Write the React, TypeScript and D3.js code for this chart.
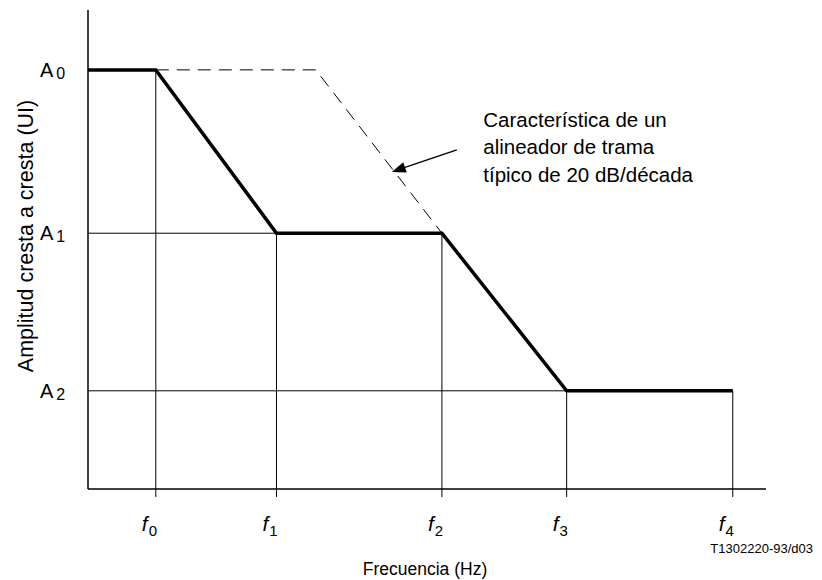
import React from "react"
import * as d3 from "d3"

// frequency ticks (abstract positions along the axis)
const fLabels = ["0", "1", "2", "3", "4"]
const fPos = [1.0, 2.78, 5.22, 7.06, 9.51]
const fTop = [8.75, 5.34, 5.34, 2.05, 2.05]

// amplitude levels
const aLabels = ["0", "1", "2"]
const aLevels = [8.75, 5.34, 2.05]
const aGridEnd = [1.0, 5.22, 7.06]

// thick tolerance curve
const responseX = [0, 1.0, 2.78, 5.22, 7.06, 9.51]
const responseY = [8.75, 8.75, 5.34, 5.34, 2.05, 2.05]

// dashed 20 dB/decade frame aligner
const alignerX = [1.0, 3.36, 5.22]
const alignerY = [8.75, 8.75, 5.34]

const noteLines = ["Característica de un", "alineador de trama", "típico de 20 dB/década"]
const noteAt = { x: 5.83, y: 7.56 }
const arrowFrom = { x: 5.44, y: 7.08 }
const arrowTo = { x: 4.48, y: 6.62 }

const font = "'Liberation Sans', Arial, sans-serif"

const App = () => {
  const width = 822
  const height = 580
  const margin = { top: 10, right: 56, bottom: 91, left: 88 }

  const x = d3.scaleLinear().domain([0, 10]).range([margin.left, width - margin.right])
  const y = d3.scaleLinear().domain([0, 10]).range([height - margin.bottom, margin.top])
  const y0 = y(0)

  const responsePath = d3.line<number>().x((d) => x(d)).y((_, i) => y(responseY[i]))(responseX)
  const alignerPath = d3.line<number>().x((d) => x(d)).y((_, i) => y(alignerY[i]))(alignerX)

  const ax = x(arrowFrom.x), ay = y(arrowFrom.y)
  const bx = x(arrowTo.x), by = y(arrowTo.y)
  const ang = Math.atan2(by - ay, bx - ax)
  const hl = 14, hw = 5.5
  const baseX = bx - hl * Math.cos(ang), baseY = by - hl * Math.sin(ang)
  const head = [
    [bx, by],
    [baseX + hw * Math.sin(ang), baseY - hw * Math.cos(ang)],
    [baseX - hw * Math.sin(ang), baseY + hw * Math.cos(ang)],
  ]

  return (
    <svg width={width} height={height} style={{ position: "absolute", left: 0, top: 0, background: "white" }} fontFamily={font}>
      {/* vertical drop lines and ticks */}
      {fPos.map((f, i) => (
        <line key={"v" + i} x1={x(f)} x2={x(f)} y1={y(fTop[i])} y2={y0 + 8} stroke="#000" strokeWidth={1} />
      ))}
      {/* horizontal level lines */}
      {aLevels.map((a, i) => (
        <line key={"h" + i} x1={x(0)} x2={x(aGridEnd[i])} y1={y(a)} y2={y(a)} stroke="#000" strokeWidth={1} />
      ))}

      {/* axes */}
      <line x1={x(0)} x2={x(0)} y1={y(10)} y2={y0} stroke="#000" strokeWidth={1.5} />
      <line x1={x(0)} x2={x(10)} y1={y0} y2={y0} stroke="#000" strokeWidth={1.5} />

      {/* dashed aligner characteristic */}
      <path d={alignerPath || ""} fill="none" stroke="#000" strokeWidth={1} strokeDasharray="13 8" />

      {/* thick curve */}
      <path d={responsePath || ""} fill="none" stroke="#000" strokeWidth={3.5} strokeLinejoin="miter" />

      {/* arrow */}
      <line x1={ax} y1={ay} x2={baseX} y2={baseY} stroke="#000" strokeWidth={1.5} />
      <polygon points={head.map((p) => p.join(",")).join(" ")} fill="#000" />

      {/* annotation */}
      <text x={x(noteAt.x)} y={y(noteAt.y)} fontSize={20.5} fill="#000">
        {noteLines.map((t, i) => (
          <tspan key={i} x={x(noteAt.x)} dy={i === 0 ? 0 : 27.5}>
            {t}
          </tspan>
        ))}
      </text>

      {/* A labels */}
      {aLevels.map((a, i) => (
        <text key={"a" + i} x={x(0) - 48} y={y(a) + 7} fontSize={20} fill="#000">
          A<tspan fontSize={16} dx={3} dy={2}>{aLabels[i]}</tspan>
        </text>
      ))}

      {/* f labels */}
      {fPos.map((f, i) => (
        <text key={"f" + i} x={x(f) - 14} y={y0 + 42} fontSize={21} fill="#000">
          <tspan fontStyle="italic">f</tspan>
          <tspan fontSize={15} dx={1} dy={5}>{fLabels[i]}</tspan>
        </text>
      ))}

      {/* axis titles */}
      <text x={(x(0) + x(10)) / 2 - 2} y={575} textAnchor="middle" fontSize={17.5} fill="#000">
        Frecuencia (Hz)
      </text>
      <text
        transform={`translate(33, 236) rotate(-90)`}
        textAnchor="middle"
        fontSize={21.5}
        fill="#000"
      >
        Amplitud cresta a cresta (UI)
      </text>
      <text x={813} y={553} textAnchor="end" fontSize={13} fill="#000">
        T1302220-93/d03
      </text>
    </svg>
  )
}

export default App
